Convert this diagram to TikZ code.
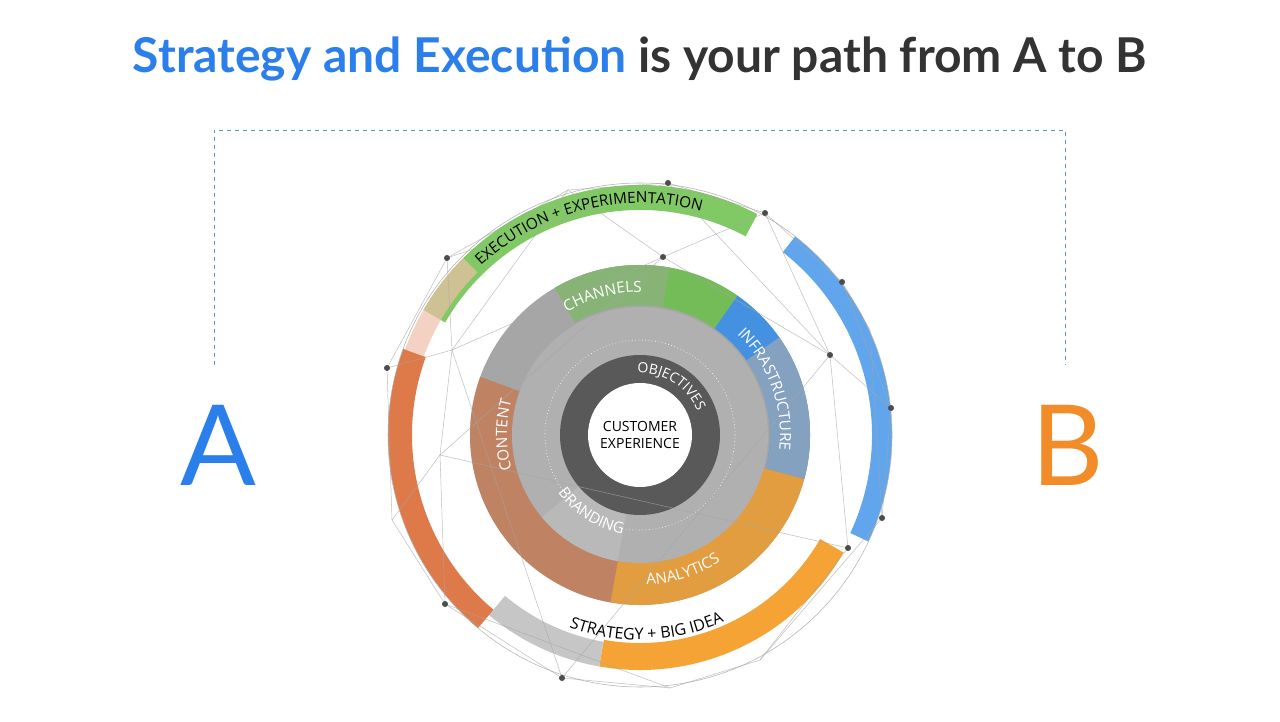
\documentclass[tikz,border=0pt]{standalone}
\usepackage{fontspec}
\setmainfont{Open Sans}
\newfontfamily\titlefont{Lato}
\usetikzlibrary{decorations.text}
\definecolor{tblue}{HTML}{2B7FEA}
\definecolor{torange}{HTML}{F28C28}
\definecolor{tdark}{HTML}{333333}
\definecolor{rgreen}{HTML}{6CC04A}
\definecolor{rblue}{HTML}{3A8FE8}
\definecolor{rorange}{HTML}{F59A1E}
\definecolor{rred}{HTML}{D9622B}
\begin{document}
\begin{tikzpicture}[x=0.75pt,y=0.75pt,
  lbl/.style={decorate,decoration={text along path,text align=center,text={#1}}},
  wire/.style={gray!70,line width=0.4pt,opacity=0.7},
  dot/.style={circle,fill=black!70,inner sep=1.6pt}]
\fill[white] (0,0) rectangle (1280,721);
\useasboundingbox (0,0) rectangle (1280,721);
\coordinate (O) at (640,286);
% title
\node (title) at (640,662) {\titlefont\bfseries\fontsize{36}{40}\selectfont\color{tblue}Strategy and Execution \color{tdark}is your path from A to B};
% dashed bracket
\coordinate (d1) at (214,356); \coordinate (d2) at (214,591);
\coordinate (d3) at (1065,591); \coordinate (d4) at (1065,356);
\draw[tblue!80,dashed,line width=0.7pt] (d1)--(d2)--(d3)--(d4);
\node (A) at (218,276) {\titlefont\fontsize{84}{84}\selectfont\color{tblue}A};
\node (B) at (1068,276) {\titlefont\fontsize{84}{84}\selectfont\color{torange}B};
% outer ring arcs
\fill[rgreen,opacity=0.85] ([shift={(O)}]150:250) arc[start angle=150,end angle=62,radius=250] -- ([shift={(O)}]62:225) arc[start angle=62,end angle=150,radius=225] -- cycle;
\fill[rblue,opacity=0.8] ([shift={(O)}]52:252) arc[start angle=52,end angle=-25,radius=252] -- ([shift={(O)}]-25:232) arc[start angle=-25,end angle=52,radius=232] -- cycle;
\fill[rorange,opacity=0.9] ([shift={(O)}]-30:235) arc[start angle=-30,end angle=-100,radius=235] -- ([shift={(O)}]-100:208) arc[start angle=-100,end angle=-30,radius=208] -- cycle;
\fill[gray!45] ([shift={(O)}]-100:235) arc[start angle=-100,end angle=-130,radius=235] -- ([shift={(O)}]-130:210) arc[start angle=-130,end angle=-100,radius=210] -- cycle;
\fill[rred,opacity=0.85] ([shift={(O)}]-130:252) arc[start angle=-130,end angle=-200,radius=252] -- ([shift={(O)}]-200:228) arc[start angle=-200,end angle=-130,radius=228] -- cycle;
\fill[rred!40,opacity=0.7] ([shift={(O)}]160:250) arc[start angle=160,end angle=135,radius=250] -- ([shift={(O)}]135:230) arc[start angle=135,end angle=160,radius=230] -- cycle;
\draw[gray!60,line width=0.4pt] (O) circle[radius=252];
% middle ring
\fill[gray!70] (O) circle[radius=170];
\fill[rgreen,opacity=0.85] ([shift={(O)}]120:170) arc[start angle=120,end angle=55,radius=170] -- ([shift={(O)}]55:130) arc[start angle=55,end angle=120,radius=130] -- cycle;
\fill[gray!70] ([shift={(O)}]120:170) arc[start angle=120,end angle=80,radius=170] -- ([shift={(O)}]80:130) arc[start angle=80,end angle=120,radius=130] -- cycle;
\fill[rgreen,opacity=0.5] ([shift={(O)}]120:170) arc[start angle=120,end angle=80,radius=170] -- ([shift={(O)}]80:130) arc[start angle=80,end angle=120,radius=130] -- cycle;
\fill[rblue,opacity=0.9] ([shift={(O)}]55:170) arc[start angle=55,end angle=-15,radius=170] -- ([shift={(O)}]-15:130) arc[start angle=-15,end angle=55,radius=130] -- cycle;
\fill[gray!65] ([shift={(O)}]35:170) arc[start angle=35,end angle=-15,radius=170] -- ([shift={(O)}]-15:130) arc[start angle=-15,end angle=35,radius=130] -- cycle;
\fill[rblue,opacity=0.35] ([shift={(O)}]35:170) arc[start angle=35,end angle=-15,radius=170] -- ([shift={(O)}]-15:130) arc[start angle=-15,end angle=35,radius=130] -- cycle;
\fill[rorange,opacity=0.75] ([shift={(O)}]-15:170) arc[start angle=-15,end angle=-100,radius=170] -- ([shift={(O)}]-100:100) arc[start angle=-100,end angle=-15,radius=100] -- cycle;
\fill[rred!80!brown,opacity=0.55] ([shift={(O)}]-100:170) arc[start angle=-100,end angle=-200,radius=170] -- ([shift={(O)}]-200:125) arc[start angle=-200,end angle=-100,radius=125] -- cycle;
\fill[gray!62] (O) circle[radius=128];
\fill[gray!55] ([shift={(O)}]-140:128) arc[start angle=-140,end angle=-100,radius=128] -- ([shift={(O)}]-100:80) arc[start angle=-100,end angle=-140,radius=80] -- cycle;
\draw[white,dotted,line width=0.5pt] (O) circle[radius=95];
% inner dark ring
\fill[black!65] (O) circle[radius=80];
\fill[white] (O) circle[radius=52];
\node[align=center,font=\fontsize{10.5}{13}\selectfont] (cx) at (O) {CUSTOMER\\EXPERIENCE};
% wireframe
\foreach \n/\x/\y in {p1/387/368,p2/447/258,p3/568/190,p4/668/183,p5/765/213,p6/842/282,p7/891/408,p8/882/518,p9/848/548,p10/760/660,p11/670/688,p12/562/678,p13/445/604,p14/392/520,p15/452/350,p16/663/257,p17/830/355,p18/440/455,p19/870/330}
  \coordinate (\n) at (\x,721-\y);
\draw[wire] (p1)--(p2)--(p3)--(p4)--(p5)--(p6)--(p7)--(p8)--(p10)--(p11)--(p12)--(p13)--(p14)--(p1);
\draw[wire] (p2)--(p15)--(p16)--(p17)--(p7); \draw[wire] (p3)--(p16)--(p5); \draw[wire] (p4)--(p17);
\draw[wire] (p15)--(p18)--(p14); \draw[wire] (p18)--(p13); \draw[wire] (p1)--(p15);
\draw[wire] (p17)--(p9)--(p10); \draw[wire] (p16)--(p18); \draw[wire] (p13)--(p11);
\draw[wire] (p15)--(p12); \draw[wire] (p17)--(p12); \draw[wire] (p2)--(p4); \draw[wire] (p6)--(p19)--(p8);
\draw[wire] (p3)--(p15); \draw[wire] (p5)--(p17); \draw[wire] (p18)--(p9);
\foreach \n in {p1,p2,p4,p5,p6,p7,p8,p9,p13,p16,p17,p12}
  \node[dot] at (\n) {};
% labels
\path[lbl={|\fontsize{11.5}{12}\selectfont|EXECUTION + EXPERIMENTATION}] ([shift={(O)}]148:232) arc[start angle=148,end angle=60,radius=232];
\path[lbl={|\fontsize{12}{12}\selectfont|STRATEGY + BIG IDEA}] ([shift={(O)}]-118:205) arc[start angle=-118,end angle=-58,radius=205];
\path[lbl={|\color{white}\fontsize{11.5}{12}\selectfont|CHANNELS}] ([shift={(O)}]135:143) arc[start angle=135,end angle=75,radius=143];
\path[lbl={|\color{white}\fontsize{11.5}{12}\selectfont|INFRASTRUCTURE}] ([shift={(O)}]62:140) arc[start angle=62,end angle=-22,radius=140];
\path[lbl={|\color{white}\fontsize{11.5}{12}\selectfont|ANALYTICS}] ([shift={(O)}]-95:150) arc[start angle=-95,end angle=-50,radius=150];
\path[lbl={|\color{white}\fontsize{11.5}{12}\selectfont|CONTENT}] ([shift={(O)}]200:133) arc[start angle=200,end angle=160,radius=133];
\path[lbl={|\color{white}\fontsize{11.5}{12}\selectfont|BRANDING}] ([shift={(O)}]-150:100) arc[start angle=-150,end angle=-95,radius=100];
\path[lbl={|\color{white}\fontsize{10.5}{12}\selectfont|OBJECTIVES}] ([shift={(O)}]100:62) arc[start angle=100,end angle=15,radius=62];
\end{tikzpicture}
\end{document}
